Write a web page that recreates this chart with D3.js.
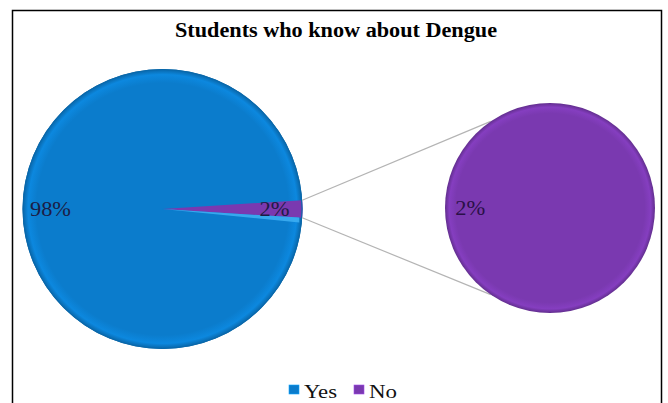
<!DOCTYPE html>
<html>
<head>
<meta charset="utf-8">
<script src="https://cdn.jsdelivr.net/npm/d3@7"></script>
<style>
  body { margin: 0; background: #fff; }
  text { font-family: "Liberation Serif", "Times New Roman", serif; }
</style>
</head>
<body>
<div id="chart"></div>
<script>
// data
const categories = ['Yes', 'No'];
const values = [98, 2];
const labels = ['98%', '2%'];
const colors = ['#0b7ccc', '#7a39b0'];
const title = 'Students who know about Dengue';

const width = 668, height = 403;
const svg = d3.select('#chart').append('svg')
  .attr('width', width)
  .attr('height', height);

// gradients for the soft bevel look
const defs = svg.append('defs');
colors.forEach((c, i) => {
  const g = defs.append('radialGradient').attr('id', 'grad' + i)
    .attr('cx', '50%').attr('cy', '50%').attr('r', '50%');
  g.append('stop').attr('offset', '0%').attr('stop-color', c);
  g.append('stop').attr('offset', '90%').attr('stop-color', c);
  g.append('stop').attr('offset', '96%').attr('stop-color', d3.color(c).brighter(0.25));
  g.append('stop').attr('offset', '100%').attr('stop-color', d3.color(c).darker(0.6));
});

// outer frame
svg.append('rect')
  .attr('x', 12.5).attr('y', 10.5)
  .attr('width', 649).attr('height', 420)
  .attr('fill', 'none').attr('stroke', '#000').attr('stroke-width', 1.5);

svg.append('text')
  .attr('x', 336).attr('y', 37)
  .attr('text-anchor', 'middle')
  .attr('font-size', 20).attr('font-weight', 'bold')
  .attr('textLength', 322).attr('lengthAdjust', 'spacingAndGlyphs')
  .text(title);

// main pie, "No" slice centred on the right side
const main = {cx: 162.5, cy: 209, r: 140};
const total = d3.sum(values);
const lastShare = values[values.length - 1] / total;
const start = Math.PI / 2 - 2 * Math.PI * (1 - lastShare / 2);
const pie = d3.pie().sort(null).startAngle(start).endAngle(start + 2 * Math.PI);
const arcs = pie(values);
const arc = d3.arc().innerRadius(0).outerRadius(main.r);
const labelArc = d3.arc().innerRadius(main.r * 0.8).outerRadius(main.r * 0.8);

const gMain = svg.append('g').attr('transform', `translate(${main.cx},${main.cy})`);

// secondary pie for the "No" slice
const sec = {cx: 550, cy: 208, r: 105};
const noSlice = arcs[1];
const pt = (a, r) => [r * Math.sin(a), -r * Math.cos(a)];

// connector lines
const secAngles = [-0.6, -(Math.PI - 0.6)];
[noSlice.startAngle, noSlice.endAngle].forEach((a, i) => {
  const p0 = pt(a, main.r), p1 = pt(secAngles[i], sec.r);
  svg.append('line')
    .attr('x1', main.cx + p0[0]).attr('y1', main.cy + p0[1])
    .attr('x2', sec.cx + p1[0]).attr('y2', sec.cy + p1[1])
    .attr('stroke', '#b4b4b4').attr('stroke-width', 1.2);
});

gMain.append('circle').attr('r', main.r).attr('fill', 'url(#grad0)');
gMain.selectAll('path.slice')
  .data(arcs)
  .join('path')
  .attr('class', 'slice')
  .attr('d', arc)
  .attr('fill', (d, i) => i === 0 ? 'none' : colors[i])
  .attr('stroke', 'none');

// light bevel edge along the lower side of the small slice
const edge = pt(noSlice.endAngle, main.r - 3);
gMain.append('path')
  .attr('d', `M0,0L${edge[0]},${edge[1]}L${edge[0]},${edge[1] + 5}Z`)
  .attr('fill', '#3fb0f3').attr('opacity', 0.85);
gMain.append('circle').attr('r', main.r - 0.5)
  .attr('fill', 'none').attr('stroke', d3.color(colors[0]).darker(0.5)).attr('stroke-width', 1);

gMain.selectAll('text.lbl')
  .data(arcs)
  .join('text')
  .attr('class', 'lbl')
  .attr('transform', d => `translate(${labelArc.centroid(d)})`)
  .attr('text-anchor', 'middle')
  .attr('dy', '0.35em')
  .attr('font-size', 20)
  .attr('fill', '#1c1c46')
  .attr('textLength', (d, i) => i === 0 ? 41 : 30)
  .attr('lengthAdjust', 'spacingAndGlyphs')
  .text((d, i) => labels[i]);

const secPie = d3.pie().sort(null).startAngle(Math.PI / 2).endAngle(Math.PI / 2 + 2 * Math.PI);
const secArcs = secPie([values[1]]);
const secLabelArc = d3.arc().innerRadius(sec.r * 0.76).outerRadius(sec.r * 0.76);
const gSec = svg.append('g').attr('transform', `translate(${sec.cx},${sec.cy})`);
gSec.append('circle').attr('r', sec.r).attr('fill', 'url(#grad1)');
gSec.selectAll('text')
  .data(secArcs)
  .join('text')
  .attr('transform', d => `translate(${secLabelArc.centroid(d)})`)
  .attr('text-anchor', 'middle')
  .attr('dy', '0.35em')
  .attr('font-size', 20)
  .attr('fill', '#2a1048')
  .attr('textLength', 30)
  .attr('lengthAdjust', 'spacingAndGlyphs')
  .text(labels[1]);

// legend
const legendX = [289, 354];
const legend = svg.append('g');
categories.forEach((c, i) => {
  legend.append('rect')
    .attr('x', legendX[i]).attr('y', 385)
    .attr('width', 10).attr('height', 9)
    .attr('fill', colors[i])
    .attr('stroke', d3.color(colors[i]).brighter(0.8)).attr('stroke-width', 0.6);
  legend.append('text')
    .attr('x', legendX[i] + 15).attr('y', 398)
    .attr('font-size', 18)
    .attr('fill', '#111')
    .attr('textLength', i === 0 ? 33 : 28)
    .attr('lengthAdjust', 'spacingAndGlyphs')
    .text(c);
});
</script>
</body>
</html>
